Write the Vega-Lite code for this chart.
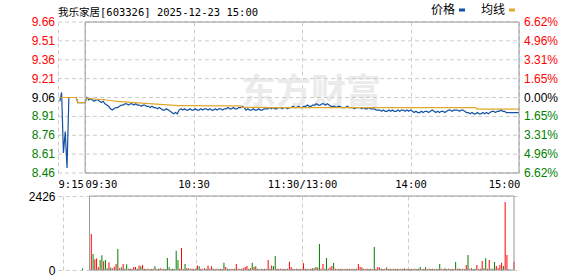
{
"$schema":"https://vega.github.io/schema/vega-lite/v6.json",
"padding":{"left":28,"top":4,"right":0,"bottom":0},
"background":"white",
"bounds":"flush",
"spacing":23,
"title":{"text":"我乐家居[603326] 2025-12-23 15:00","anchor":"start","frame":"group","font":"'DejaVu Sans Mono', 'Noto Sans CJK SC'","fontSize":10.5,"fontWeight":"normal","color":"#000000","offset":-14},
"config":{"view":{"stroke":null},"axis":{"gridColor":"#cccccc","gridDash":[4,3],"domain":false,"ticks":false,"labelFont":"Liberation Sans","labelFontSize":12}},
"resolve":{"scale":{"color":"independent"},"legend":{"color":"independent"}},
"datasets":{
"ticks":[
{"y":9.66,"l":"9.66","r":"6.62%","c":"up"},{"y":9.51,"l":"9.51","r":"4.96%","c":"up"},{"y":9.36,"l":"9.36","r":"3.31%","c":"up"},{"y":9.21,"l":"9.21","r":"1.65%","c":"up"},
{"y":9.06,"l":"9.06","r":"0.00%","c":"flat"},
{"y":8.91,"l":"8.91","r":"1.65%","c":"down"},{"y":8.76,"l":"8.76","r":"3.31%","c":"down"},{"y":8.61,"l":"8.61","r":"4.96%","c":"down"},{"y":8.46,"l":"8.46","r":"6.62%","c":"down"}
],
"p":[
{"m":1,"价格":9.03,"均线":9.06},{"m":2,"价格":9.10,"均线":9.06},{"m":3,"价格":8.62,"均线":9.06},{"m":4,"价格":8.79,"均线":9.06},{"m":5,"价格":8.50,"均线":9.06},{"m":6,"价格":9.06,"均线":9.06},{"m":7,"价格":9.06,"均线":9.06},{"m":8,"价格":9.06,"均线":9.06},{"m":9,"价格":9.06,"均线":9.06},{"m":10,"价格":9.06,"均线":9.06},
{"m":11,"价格":9.02,"均线":9.02},{"m":12,"价格":9.02,"均线":9.02},{"m":13,"价格":9.02,"均线":9.02},{"m":14,"价格":9.02,"均线":9.02},{"m":15,"价格":9.02,"均线":9.02},
{"m":16,"价格":9.06,"均线":9.055},{"m":17,"价格":9.04,"均线":9.052},{"m":18,"价格":9.05,"均线":9.05},{"m":19,"价格":9.04,"均线":9.05},{"m":20,"价格":9.03,"均线":9.048},
{"m":21,"价格":9.04,"均线":9.047},{"m":22,"价格":9.04,"均线":9.046},{"m":23,"价格":9.03,"均线":9.045},{"m":24,"价格":9.02,"均线":9.044},{"m":25,"价格":9.03,"均线":9.043},
{"m":26,"价格":9.01,"均线":9.041},{"m":27,"价格":9.00,"均线":9.04},{"m":28,"价格":8.99,"均线":9.038},{"m":29,"价格":8.97,"均线":9.036},{"m":30,"价格":8.96,"均线":9.034},
{"m":31,"价格":8.97,"均线":9.031},{"m":32,"价格":8.98,"均线":9.03},{"m":33,"价格":8.98,"均线":9.029},{"m":34,"价格":8.99,"均线":9.028},{"m":35,"价格":9.00,"均线":9.027},
{"m":36,"价格":9.00,"均线":9.026},{"m":37,"价格":9.01,"均线":9.025},{"m":38,"价格":9.01,"均线":9.024},{"m":39,"价格":9.00,"均线":9.023},{"m":40,"价格":9.01,"均线":9.022},
{"m":41,"价格":9.01,"均线":9.021},{"m":42,"价格":9.00,"均线":9.02},{"m":43,"价格":9.01,"均线":9.019},{"m":44,"价格":9.00,"均线":9.018},{"m":45,"价格":9.00,"均线":9.017},
{"m":46,"价格":8.99,"均线":9.016},{"m":47,"价格":9.00,"均线":9.015},{"m":48,"价格":9.00,"均线":9.014},{"m":49,"价格":8.99,"均线":9.013},{"m":50,"价格":8.99,"均线":9.012},
{"m":51,"价格":8.98,"均线":9.011},{"m":52,"价格":8.99,"均线":9.01},{"m":53,"价格":8.98,"均线":9.009},{"m":54,"价格":8.98,"均线":9.008},{"m":55,"价格":8.97,"均线":9.007},
{"m":56,"价格":8.98,"均线":9.006},{"m":57,"价格":8.97,"均线":9.005},{"m":58,"价格":8.96,"均线":9.004},{"m":59,"价格":8.96,"均线":9.003},{"m":60,"价格":8.97,"均线":9.002},
{"m":61,"价格":8.96,"均线":9.001},{"m":62,"价格":8.95,"均线":9.0},{"m":63,"价格":8.94,"均线":8.999},{"m":64,"价格":8.93,"均线":8.998},{"m":65,"价格":8.94,"均线":8.997},
{"m":66,"价格":8.93,"均线":8.996},{"m":67,"价格":8.96,"均线":8.995},{"m":68,"价格":8.97,"均线":8.995},{"m":69,"价格":8.96,"均线":8.995},{"m":70,"价格":8.97,"均线":8.995},
{"m":71,"价格":8.96,"均线":8.995},{"m":72,"价格":8.96,"均线":8.995},{"m":73,"价格":8.97,"均线":8.995},{"m":74,"价格":8.96,"均线":8.995},{"m":75,"价格":8.96,"均线":8.995},
{"m":76,"价格":8.97,"均线":8.995},{"m":77,"价格":8.96,"均线":8.995},{"m":78,"价格":8.96,"均线":8.995},{"m":79,"价格":8.97,"均线":8.995},{"m":80,"价格":8.96,"均线":8.994},
{"m":81,"价格":8.97,"均线":8.994},{"m":82,"价格":8.97,"均线":8.994},{"m":83,"价格":8.96,"均线":8.994},{"m":84,"价格":8.97,"均线":8.994},{"m":85,"价格":8.96,"均线":8.994},
{"m":86,"价格":8.96,"均线":8.994},{"m":87,"价格":8.97,"均线":8.994},{"m":88,"价格":8.96,"均线":8.994},{"m":89,"价格":8.97,"均线":8.994},{"m":90,"价格":8.97,"均线":8.994},
{"m":91,"价格":8.96,"均线":8.993},{"m":92,"价格":8.97,"均线":8.993},{"m":93,"价格":8.97,"均线":8.993},{"m":94,"价格":8.98,"均线":8.993},{"m":95,"价格":8.97,"均线":8.993},
{"m":96,"价格":8.97,"均线":8.993},{"m":97,"价格":8.98,"均线":8.993},{"m":98,"价格":8.97,"均线":8.993},{"m":99,"价格":8.97,"均线":8.993},{"m":100,"价格":8.98,"均线":8.993},
{"m":101,"价格":8.98,"均线":8.993},{"m":102,"价格":8.99,"均线":8.982},{"m":103,"价格":8.98,"均线":8.982},{"m":104,"价格":8.96,"均线":8.982},{"m":105,"价格":8.97,"均线":8.982},
{"m":106,"价格":8.96,"均线":8.982},{"m":107,"价格":8.96,"均线":8.982},{"m":108,"价格":8.97,"均线":8.982},{"m":109,"价格":8.96,"均线":8.982},{"m":110,"价格":8.96,"均线":8.982},
{"m":111,"价格":8.97,"均线":8.982},{"m":112,"价格":8.96,"均线":8.982},{"m":113,"价格":8.96,"均线":8.982},{"m":114,"价格":8.97,"均线":8.982},{"m":115,"价格":8.97,"均线":8.982},
{"m":116,"价格":8.97,"均线":8.979},{"m":117,"价格":8.98,"均线":8.979},{"m":118,"价格":8.97,"均线":8.979},{"m":119,"价格":8.98,"均线":8.979},{"m":120,"价格":8.97,"均线":8.979},
{"m":121,"价格":8.97,"均线":8.979},{"m":122,"价格":8.98,"均线":8.979},{"m":123,"价格":8.98,"均线":8.979},{"m":124,"价格":8.97,"均线":8.979},{"m":125,"价格":8.98,"均线":8.979},
{"m":126,"价格":8.98,"均线":8.979},{"m":127,"价格":8.97,"均线":8.979},{"m":128,"价格":8.98,"均线":8.979},{"m":129,"价格":8.98,"均线":8.979},{"m":130,"价格":8.99,"均线":8.979},
{"m":131,"价格":8.98,"均线":8.979},{"m":132,"价格":8.98,"均线":8.979},{"m":133,"价格":8.99,"均线":8.979},{"m":134,"价格":8.98,"均线":8.979},{"m":135,"价格":8.98,"均线":8.979},
{"m":136,"价格":8.99,"均线":8.979},{"m":137,"价格":8.99,"均线":8.979},{"m":138,"价格":9.00,"均线":8.979},{"m":139,"价格":8.99,"均线":8.979},{"m":140,"价格":8.99,"均线":8.979},
{"m":141,"价格":9.00,"均线":8.979},{"m":142,"价格":9.00,"均线":8.979},{"m":143,"价格":9.01,"均线":8.979},{"m":144,"价格":9.00,"均线":8.979},{"m":145,"价格":9.00,"均线":8.979},
{"m":146,"价格":9.01,"均线":8.979},{"m":147,"价格":9.01,"均线":8.979},{"m":148,"价格":9.00,"均线":8.979},{"m":149,"价格":9.01,"均线":8.979},{"m":150,"价格":9.00,"均线":8.979},
{"m":151,"价格":8.99,"均线":8.979},{"m":152,"价格":8.99,"均线":8.979},{"m":153,"价格":8.99,"均线":8.979},{"m":154,"价格":8.98,"均线":8.979},{"m":155,"价格":8.99,"均线":8.979},
{"m":156,"价格":8.99,"均线":8.979},{"m":157,"价格":8.98,"均线":8.979},{"m":158,"价格":8.98,"均线":8.979},{"m":159,"价格":8.98,"均线":8.979},{"m":160,"价格":8.99,"均线":8.979},
{"m":161,"价格":8.98,"均线":8.979},{"m":162,"价格":8.98,"均线":8.979},{"m":163,"价格":8.98,"均线":8.979},{"m":164,"价格":8.97,"均线":8.979},{"m":165,"价格":8.98,"均线":8.979},
{"m":166,"价格":8.98,"均线":8.979},{"m":167,"价格":8.98,"均线":8.979},{"m":168,"价格":8.97,"均线":8.979},{"m":169,"价格":8.98,"均线":8.979},{"m":170,"价格":8.97,"均线":8.979},
{"m":171,"价格":8.97,"均线":8.979},{"m":172,"价格":8.98,"均线":8.979},{"m":173,"价格":8.97,"均线":8.979},{"m":174,"价格":8.97,"均线":8.979},{"m":175,"价格":8.97,"均线":8.979},
{"m":176,"价格":8.96,"均线":8.979},{"m":177,"价格":8.96,"均线":8.979},{"m":178,"价格":8.96,"均线":8.979},{"m":179,"价格":8.95,"均线":8.979},{"m":180,"价格":8.96,"均线":8.979},
{"m":181,"价格":8.95,"均线":8.979},{"m":182,"价格":8.95,"均线":8.979},{"m":183,"价格":8.96,"均线":8.979},{"m":184,"价格":8.95,"均线":8.979},{"m":185,"价格":8.96,"均线":8.979},
{"m":186,"价格":8.95,"均线":8.979},{"m":187,"价格":8.95,"均线":8.979},{"m":188,"价格":8.96,"均线":8.979},{"m":189,"价格":8.95,"均线":8.979},{"m":190,"价格":8.96,"均线":8.979},
{"m":191,"价格":8.96,"均线":8.979},{"m":192,"价格":8.95,"均线":8.979},{"m":193,"价格":8.96,"均线":8.979},{"m":194,"价格":8.95,"均线":8.979},{"m":195,"价格":8.96,"均线":8.979},
{"m":196,"价格":8.95,"均线":8.979},{"m":197,"价格":8.94,"均线":8.979},{"m":198,"价格":8.95,"均线":8.979},{"m":199,"价格":8.94,"均线":8.979},{"m":200,"价格":8.94,"均线":8.979},
{"m":201,"价格":8.95,"均线":8.979},{"m":202,"价格":8.94,"均线":8.979},{"m":203,"价格":8.95,"均线":8.979},{"m":204,"价格":8.95,"均线":8.979},{"m":205,"价格":8.94,"均线":8.979},
{"m":206,"价格":8.95,"均线":8.979},{"m":207,"价格":8.96,"均线":8.979},{"m":208,"价格":8.95,"均线":8.979},{"m":209,"价格":8.94,"均线":8.979},{"m":210,"价格":8.95,"均线":8.979},
{"m":211,"价格":8.94,"均线":8.979},{"m":212,"价格":8.95,"均线":8.979},{"m":213,"价格":8.95,"均线":8.979},{"m":214,"价格":8.94,"均线":8.979},{"m":215,"价格":8.95,"均线":8.979},
{"m":216,"价格":8.96,"均线":8.979},{"m":217,"价格":8.96,"均线":8.979},{"m":218,"价格":8.95,"均线":8.979},{"m":219,"价格":8.96,"均线":8.979},{"m":220,"价格":8.96,"均线":8.979},
{"m":221,"价格":8.96,"均线":8.979},{"m":222,"价格":8.95,"均线":8.979},{"m":223,"价格":8.96,"均线":8.979},{"m":224,"价格":8.96,"均线":8.979},{"m":225,"价格":8.95,"均线":8.979},
{"m":226,"价格":8.94,"均线":8.979},{"m":227,"价格":8.94,"均线":8.979},{"m":228,"价格":8.93,"均线":8.979},{"m":229,"价格":8.94,"均线":8.979},{"m":230,"价格":8.93,"均线":8.979},
{"m":231,"价格":8.93,"均线":8.979},{"m":232,"价格":8.94,"均线":8.968},{"m":233,"价格":8.93,"均线":8.968},{"m":234,"价格":8.93,"均线":8.968},{"m":235,"价格":8.94,"均线":8.968},
{"m":236,"价格":8.93,"均线":8.968},{"m":237,"价格":8.94,"均线":8.968},{"m":238,"价格":8.93,"均线":8.968},{"m":239,"价格":8.94,"均线":8.968},{"m":240,"价格":8.95,"均线":8.968},
{"m":241,"价格":8.95,"均线":8.968},{"m":242,"价格":8.94,"均线":8.968},{"m":243,"价格":8.95,"均线":8.968},{"m":244,"价格":8.95,"均线":8.968},{"m":245,"价格":8.96,"均线":8.968},
{"m":246,"价格":8.95,"均线":8.968},{"m":247,"价格":8.95,"均线":8.968},{"m":248,"价格":8.94,"均线":8.968},{"m":249,"价格":8.94,"均线":8.968},{"m":250,"价格":8.94,"均线":8.968},
{"m":251,"价格":8.94,"均线":8.968},{"m":252,"价格":8.94,"均线":8.968},{"m":253,"价格":8.94,"均线":8.968},{"m":254,"价格":8.94,"均线":8.968},{"m":255,"价格":8.94,"均线":8.968}
],
"v":[
{"m":11,"v":60,"d":"d"},
{"m":16,"v":1180,"d":"u"},{"m":17,"v":525,"d":"d"},{"m":18,"v":350,"d":"u"},{"m":19,"v":380,"d":"u"},{"m":20,"v":90,"d":"u"},
{"m":21,"v":330,"d":"d"},{"m":22,"v":480,"d":"d"},{"m":23,"v":285,"d":"u"},{"m":24,"v":330,"d":"d"},{"m":25,"v":60,"d":"d"},
{"m":26,"v":250,"d":"u"},{"m":27,"v":80,"d":"d"},{"m":28,"v":50,"d":"u"},{"m":29,"v":110,"d":"u"},{"m":30,"v":200,"d":"u"},
{"m":31,"v":690,"d":"d"},{"m":32,"v":60,"d":"u"},{"m":33,"v":90,"d":"d"},{"m":34,"v":200,"d":"u"},{"m":35,"v":40,"d":"d"},
{"m":36,"v":185,"d":"d"},{"m":37,"v":40,"d":"u"},{"m":38,"v":50,"d":"d"},{"m":39,"v":30,"d":"u"},{"m":40,"v":100,"d":"u"},
{"m":41,"v":100,"d":"u"},{"m":42,"v":40,"d":"d"},{"m":43,"v":150,"d":"u"},{"m":44,"v":120,"d":"d"},{"m":45,"v":160,"d":"u"},
{"m":46,"v":40,"d":"u"},{"m":47,"v":30,"d":"d"},{"m":48,"v":40,"d":"u"},{"m":49,"v":30,"d":"u"},{"m":50,"v":30,"d":"d"},
{"m":51,"v":40,"d":"u"},{"m":52,"v":120,"d":"d"},{"m":53,"v":30,"d":"u"},{"m":54,"v":40,"d":"d"},{"m":55,"v":60,"d":"u"},
{"m":56,"v":30,"d":"u"},{"m":57,"v":40,"d":"d"},{"m":58,"v":30,"d":"u"},{"m":59,"v":390,"d":"d"},{"m":60,"v":90,"d":"d"},
{"m":61,"v":30,"d":"u"},{"m":62,"v":40,"d":"d"},{"m":63,"v":30,"d":"d"},{"m":64,"v":630,"d":"d"},{"m":65,"v":330,"d":"d"},
{"m":66,"v":40,"d":"u"},{"m":67,"v":720,"d":"u"},{"m":68,"v":30,"d":"d"},{"m":69,"v":200,"d":"d"},{"m":70,"v":60,"d":"u"},
{"m":71,"v":60,"d":"u"},{"m":72,"v":40,"d":"d"},{"m":73,"v":40,"d":"u"},{"m":74,"v":30,"d":"u"},{"m":75,"v":40,"d":"d"},
{"m":76,"v":150,"d":"u"},{"m":77,"v":120,"d":"d"},{"m":78,"v":40,"d":"u"},{"m":79,"v":30,"d":"u"},{"m":80,"v":60,"d":"u"},
{"m":81,"v":40,"d":"d"},{"m":82,"v":150,"d":"u"},{"m":83,"v":40,"d":"u"},{"m":84,"v":120,"d":"u"},{"m":85,"v":40,"d":"d"},
{"m":86,"v":30,"d":"u"},{"m":87,"v":40,"d":"u"},{"m":88,"v":30,"d":"d"},{"m":89,"v":40,"d":"u"},{"m":90,"v":30,"d":"u"},
{"m":91,"v":240,"d":"d"},{"m":92,"v":100,"d":"u"},{"m":93,"v":40,"d":"u"},{"m":94,"v":30,"d":"d"},{"m":95,"v":40,"d":"u"},
{"m":96,"v":30,"d":"u"},{"m":97,"v":40,"d":"d"},{"m":98,"v":200,"d":"u"},{"m":99,"v":40,"d":"u"},{"m":100,"v":30,"d":"u"},
{"m":101,"v":40,"d":"d"},{"m":102,"v":60,"d":"u"},{"m":103,"v":100,"d":"u"},{"m":104,"v":130,"d":"u"},{"m":105,"v":40,"d":"d"},
{"m":106,"v":60,"d":"u"},{"m":107,"v":240,"d":"d"},{"m":108,"v":100,"d":"u"},{"m":109,"v":120,"d":"d"},{"m":110,"v":40,"d":"u"},
{"m":111,"v":30,"d":"d"},{"m":112,"v":40,"d":"u"},{"m":113,"v":30,"d":"u"},{"m":114,"v":40,"d":"d"},{"m":115,"v":30,"d":"u"},
{"m":116,"v":330,"d":"u"},{"m":117,"v":40,"d":"d"},{"m":118,"v":150,"d":"u"},{"m":119,"v":120,"d":"d"},{"m":120,"v":460,"d":"d"},
{"m":121,"v":40,"d":"u"},{"m":122,"v":30,"d":"u"},{"m":123,"v":40,"d":"u"},{"m":124,"v":30,"d":"d"},{"m":125,"v":40,"d":"u"},
{"m":126,"v":30,"d":"u"},{"m":127,"v":40,"d":"d"},{"m":128,"v":270,"d":"u"},{"m":129,"v":100,"d":"u"},{"m":130,"v":40,"d":"u"},
{"m":131,"v":30,"d":"d"},{"m":132,"v":40,"d":"u"},{"m":133,"v":30,"d":"u"},{"m":134,"v":40,"d":"d"},{"m":135,"v":30,"d":"u"},
{"m":136,"v":220,"d":"u"},{"m":137,"v":40,"d":"u"},{"m":138,"v":40,"d":"d"},{"m":139,"v":30,"d":"u"},{"m":140,"v":40,"d":"u"},
{"m":141,"v":60,"d":"d"},{"m":142,"v":60,"d":"u"},{"m":143,"v":100,"d":"d"},{"m":144,"v":80,"d":"u"},{"m":145,"v":850,"d":"d"},
{"m":146,"v":40,"d":"u"},{"m":147,"v":200,"d":"u"},{"m":148,"v":40,"d":"d"},{"m":149,"v":390,"d":"d"},{"m":150,"v":40,"d":"u"},
{"m":151,"v":80,"d":"u"},{"m":152,"v":130,"d":"u"},{"m":153,"v":230,"d":"d"},{"m":154,"v":40,"d":"u"},{"m":155,"v":30,"d":"u"},
{"m":156,"v":40,"d":"d"},{"m":157,"v":30,"d":"u"},{"m":158,"v":40,"d":"u"},{"m":159,"v":30,"d":"d"},{"m":160,"v":40,"d":"u"},
{"m":161,"v":30,"d":"u"},{"m":162,"v":40,"d":"d"},{"m":163,"v":30,"d":"u"},{"m":164,"v":40,"d":"u"},{"m":165,"v":30,"d":"d"},
{"m":166,"v":40,"d":"u"},{"m":167,"v":200,"d":"u"},{"m":168,"v":100,"d":"u"},{"m":169,"v":80,"d":"u"},{"m":170,"v":40,"d":"d"},
{"m":171,"v":30,"d":"u"},{"m":172,"v":40,"d":"u"},{"m":173,"v":30,"d":"d"},{"m":174,"v":40,"d":"u"},{"m":175,"v":30,"d":"u"},
{"m":176,"v":755,"d":"d"},{"m":177,"v":40,"d":"u"},{"m":178,"v":100,"d":"u"},{"m":179,"v":80,"d":"u"},{"m":180,"v":40,"d":"d"},
{"m":181,"v":30,"d":"u"},{"m":182,"v":40,"d":"u"},{"m":183,"v":80,"d":"d"},{"m":184,"v":30,"d":"u"},{"m":185,"v":40,"d":"u"},
{"m":186,"v":30,"d":"d"},{"m":187,"v":40,"d":"u"},{"m":188,"v":30,"d":"u"},{"m":189,"v":40,"d":"d"},{"m":190,"v":30,"d":"u"},
{"m":191,"v":40,"d":"u"},{"m":192,"v":30,"d":"d"},{"m":193,"v":60,"d":"u"},{"m":194,"v":30,"d":"u"},{"m":195,"v":40,"d":"d"},
{"m":196,"v":30,"d":"u"},{"m":197,"v":40,"d":"u"},{"m":198,"v":30,"d":"d"},{"m":199,"v":40,"d":"u"},{"m":200,"v":30,"d":"u"},
{"m":201,"v":40,"d":"d"},{"m":202,"v":100,"d":"d"},{"m":203,"v":30,"d":"u"},{"m":204,"v":40,"d":"u"},{"m":205,"v":90,"d":"d"},
{"m":206,"v":30,"d":"u"},{"m":207,"v":40,"d":"u"},{"m":208,"v":30,"d":"d"},{"m":209,"v":40,"d":"u"},{"m":210,"v":30,"d":"u"},
{"m":211,"v":40,"d":"d"},{"m":212,"v":30,"d":"u"},{"m":213,"v":200,"d":"d"},{"m":214,"v":40,"d":"u"},{"m":215,"v":30,"d":"u"},
{"m":216,"v":60,"d":"d"},{"m":217,"v":30,"d":"u"},{"m":218,"v":40,"d":"u"},{"m":219,"v":30,"d":"d"},{"m":220,"v":40,"d":"u"},
{"m":221,"v":30,"d":"u"},{"m":222,"v":260,"d":"d"},{"m":223,"v":40,"d":"u"},{"m":224,"v":50,"d":"u"},{"m":225,"v":30,"d":"d"},
{"m":226,"v":40,"d":"u"},{"m":227,"v":30,"d":"u"},{"m":228,"v":164,"d":"u"},{"m":229,"v":490,"d":"d"},{"m":230,"v":40,"d":"u"},
{"m":231,"v":60,"d":"u"},{"m":232,"v":30,"d":"d"},{"m":233,"v":40,"d":"d"},{"m":234,"v":164,"d":"u"},{"m":235,"v":30,"d":"u"},
{"m":236,"v":40,"d":"u"},{"m":237,"v":295,"d":"u"},{"m":238,"v":60,"d":"d"},{"m":239,"v":383,"d":"d"},{"m":240,"v":40,"d":"u"},
{"m":241,"v":328,"d":"u"},{"m":242,"v":40,"d":"d"},{"m":243,"v":40,"d":"d"},{"m":244,"v":262,"d":"d"},{"m":245,"v":130,"d":"u"},
{"m":246,"v":60,"d":"u"},{"m":247,"v":165,"d":"u"},{"m":248,"v":240,"d":"u"},{"m":249,"v":130,"d":"d"},{"m":250,"v":2230,"d":"u"},
{"m":251,"v":490,"d":"u"},{"m":252,"v":15,"d":"d"},{"m":255,"v":272,"d":"u"}
]
},
"vconcat":[
{
"width":461,"height":151,
"layer":[
{"data":{"values":[{"t":"东方财富"}]},"mark":{"type":"text","font":"Noto Sans CJK SC","fontWeight":"bold","fontSize":35,"color":"#ebebeb"},
 "encoding":{"x":{"datum":140,"type":"quantitative"},"y":{"datum":9.095,"type":"quantitative","axis":null},"text":{"field":"t","type":"nominal"}}},
{"data":{"name":"ticks"},"mark":{"type":"rule","color":"#cccccc","strokeDash":[4,3],"strokeWidth":1},
 "encoding":{"x":{"datum":0,"type":"quantitative"},"x2":{"datum":255},"y":{"field":"y","type":"quantitative","axis":null}}},
{"data":{"name":"p"},"transform":[{"fold":["价格","均线"],"as":["s","val"]}],"mark":{"type":"line","strokeWidth":1.2},
 "encoding":{"x":{"field":"m","type":"quantitative","scale":{"domain":[0,255],"nice":false,"zero":false},
   "axis":{"orient":"bottom","title":null,"values":[0,15,75,135,195,255],"grid":true,"labelOverlap":false,"labelFlush":false,
    "labelExpr":"datum.value==0?'9:15':datum.value==15?'09:30':datum.value==75?'10:30':datum.value==135?'11:30/13:00':datum.value==195?'14:00':'15:00'",
    "labelAlign":{"condition":{"test":"datum.value<=15","value":"left"},"value":"center"},
    "labelOffset":{"condition":{"test":"datum.value>=255","value":-15},"value":0},
    "labelFont":"DejaVu Sans Mono","labelFontSize":10.5,"labelColor":"#000000","labelBaseline":"alphabetic","labelPadding":14}},
  "y":{"field":"val","type":"quantitative","scale":{"domain":[8.46,9.66],"nice":false,"zero":false},"axis":null},
  "color":{"field":"s","type":"nominal","scale":{"domain":["价格","均线"],"range":["#1452a3","#e2a62a"]},
   "legend":{"orient":"none","legendX":398,"legendY":-18,"direction":"horizontal","title":null,"symbolType":"stroke","symbolSize":36,"symbolStrokeWidth":3,
    "labelFont":"Noto Sans CJK SC","labelFontSize":12,"labelColor":"#000000","labelAlign":"right","labelOffset":-13,"columnPadding":9,"padding":0}}}},
{"data":{"values":[{}]},"mark":{"type":"rect","fill":null,"stroke":"#999999","strokeWidth":1},
 "encoding":{"x":{"datum":15,"type":"quantitative"},"x2":{"datum":255},"y":{"datum":8.46,"type":"quantitative","axis":null},"y2":{"datum":9.66}}},
{"data":{"name":"ticks"},"mark":{"type":"text","align":"right","baseline":"middle","dx":-3,"font":"Liberation Sans","fontSize":12},
 "encoding":{"x":{"datum":0,"type":"quantitative"},"y":{"field":"y","type":"quantitative","axis":null},"text":{"field":"l","type":"nominal"},
  "color":{"field":"c","type":"nominal","scale":{"domain":["up","flat","down"],"range":["#ff0000","#000000","#008000"]},"legend":null}}},
{"data":{"name":"ticks"},"mark":{"type":"text","align":"left","baseline":"middle","dx":5,"font":"Liberation Sans","fontSize":12},
 "encoding":{"x":{"datum":255,"type":"quantitative"},"y":{"field":"y","type":"quantitative","axis":null},"text":{"field":"r","type":"nominal"},
  "color":{"field":"c","type":"nominal","scale":{"domain":["up","flat","down"],"range":["#ff0000","#000000","#008000"]},"legend":null}}}
],
"resolve":{"scale":{"color":"independent"}}
},
{
"width":461,"height":74,
"layer":[
{"data":{"name":"v"},"mark":{"type":"bar","size":1},
 "encoding":{"x":{"field":"m","type":"quantitative","scale":{"domain":[0,255],"nice":false,"zero":false},
   "axis":{"title":null,"values":[0,75,135,195],"labels":false,"grid":true}},
  "y":{"field":"v","type":"quantitative","scale":{"domain":[0,2426],"nice":false,"zero":true},
   "axis":{"orient":"left","title":null,"values":[0,607,1213,1820,2426],"format":"d","labelPadding":3,"grid":true,"labelColor":"#000000"}},
  "color":{"field":"d","type":"nominal","scale":{"domain":["u","d"],"range":["#ff0000","#008000"]},"legend":null}}},
{"data":{"values":[{}]},"mark":{"type":"rect","fill":null,"stroke":"#999999","strokeWidth":1},
 "encoding":{"x":{"datum":15,"type":"quantitative"},"x2":{"datum":255},"y":{"datum":0,"type":"quantitative"},"y2":{"datum":2426}}}
]
}
]
}
